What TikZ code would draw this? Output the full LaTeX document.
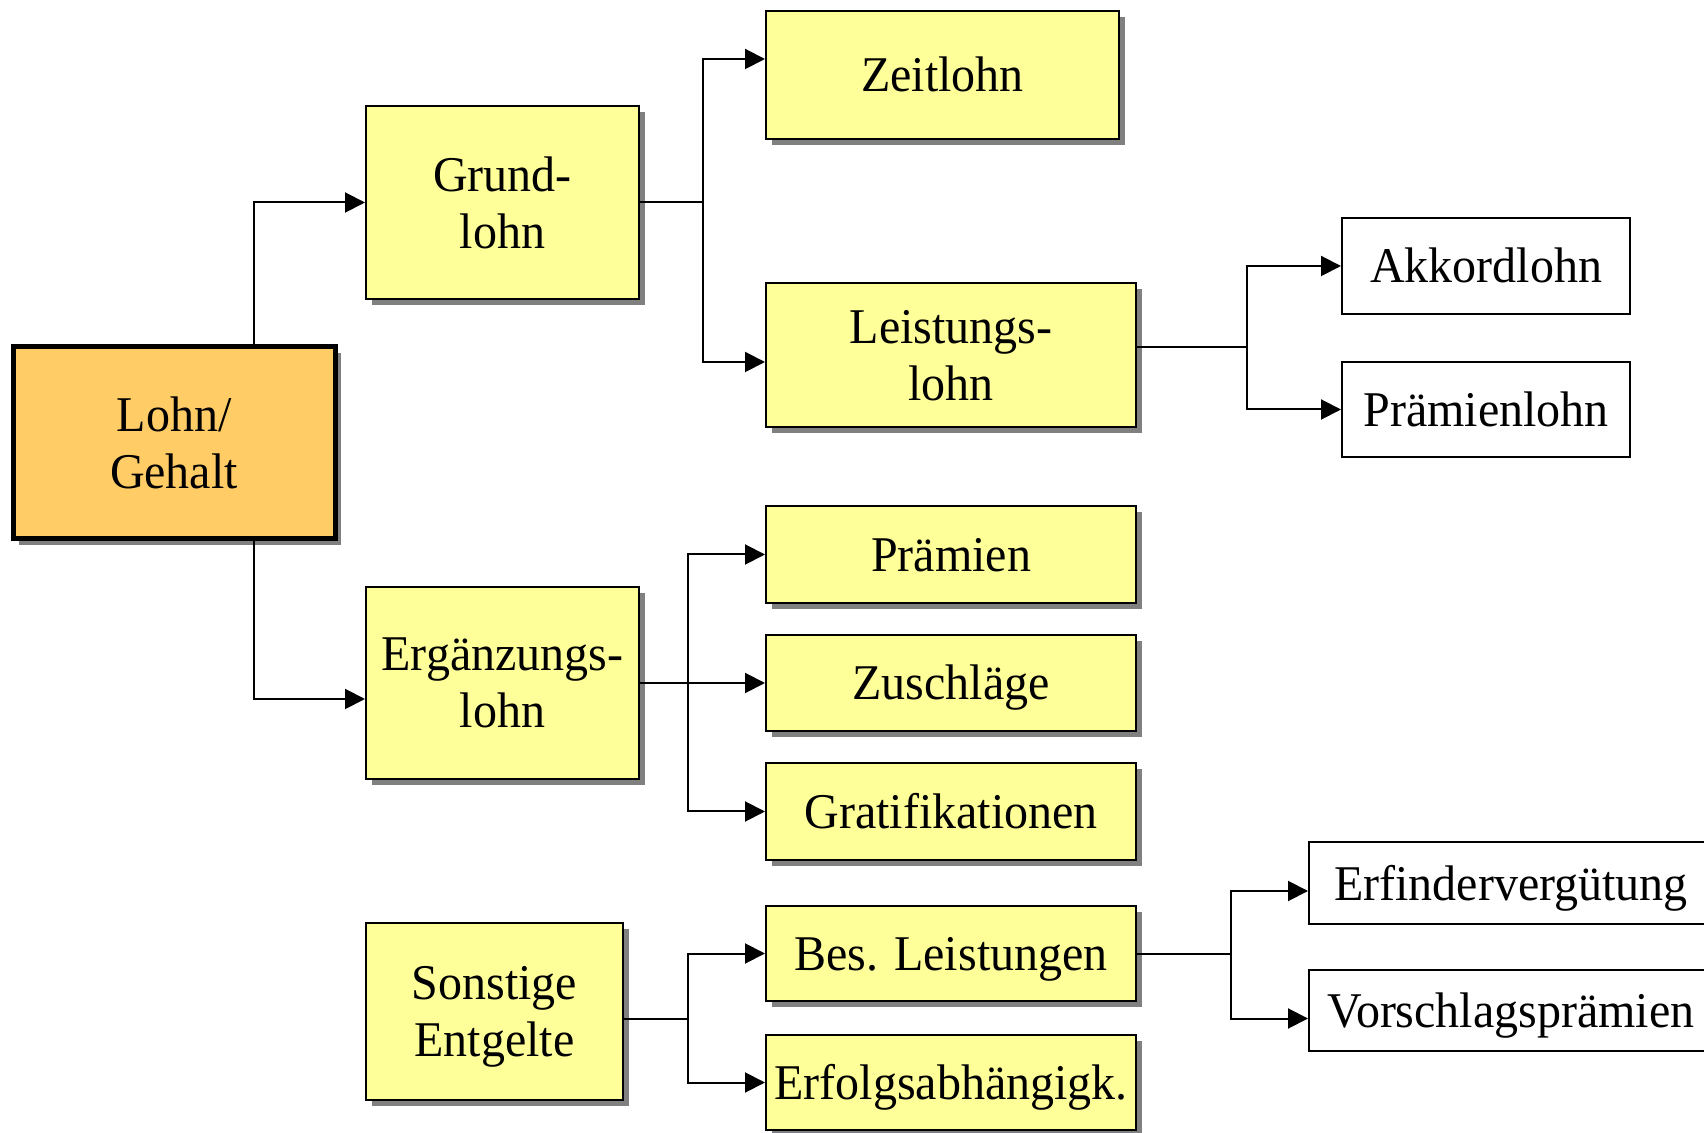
\documentclass[tikz,border=0pt]{standalone}
\usepackage{fontspec}
\setmainfont{Liberation Serif}[FakeStretch=0.96]
\usetikzlibrary{%
  arrows.meta,%
  shadows%
}
\definecolor{hellgelb}{RGB}{255,255,153}
\definecolor{lohnorange}{RGB}{255,204,102}

\begin{document}
\begin{tikzpicture}[x=0.5pt,y=-0.5pt,
  every node/.style={font=\fontsize{25}{28.5}\selectfont,align=center,inner sep=0pt},
  mass/.style 2 args={minimum width=#1*0.5pt,minimum height=#2*0.5pt},
  eine/.style={text height=18pt,text depth=1pt},
  zwei/.style={text depth=0pt},
  schatten/.style={drop shadow={shadow xshift=3pt,shadow yshift=-3pt,fill=gray,opacity=1}},
  gelb/.style={draw,line width=1pt,fill=hellgelb,schatten},
  weiss/.style={draw,line width=1pt,fill=white},
  haupt/.style={draw,line width=2.5pt,fill=lohnorange,schatten},
  pfeil/.style={line width=1pt,-{Triangle[length=10pt,width=10pt]}}]
  \useasboundingbox (0,0) rectangle (1704,1133);

  % Knoten
  \node[haupt,zwei,mass={322}{192}] (lohn) at (174,443) {Lohn/\\Gehalt};
  \node[gelb,zwei,mass={273}{193}] (grund) at (502.5,202.5) {Grund-\\lohn};
  \node[gelb,zwei,mass={273}{192}] (ergaenz) at (502.5,683) {Ergänzungs-\\lohn};
  \node[gelb,zwei,mass={257}{177}] (sonst) at (494.5,1011.5) {Sonstige\\Entgelte};

  \node[gelb,eine,mass={353}{128}] (zeit) at (942.5,75) {Zeitlohn};
  \node[gelb,zwei,mass={370}{144}] (leist) at (951,355) {Leistungs-\\lohn};
  \node[gelb,eine,mass={370}{97}] (praem) at (951,554.5) {Prämien};
  \node[gelb,eine,mass={370}{96}] (zuschl) at (951,683) {Zuschläge};
  \node[gelb,eine,mass={370}{97}] (grat) at (951,811.5) {Gratifikationen};
  \node[gelb,eine,mass={370}{95}] (bes) at (951,953.5) {Bes. Leistungen};
  \node[gelb,eine,mass={370}{95}] (erfolg) at (951,1082.5) {Erfolgsabhängigk.};

  \node[weiss,eine,mass={288}{96}] (akkord) at (1486,266) {Akkordlohn};
  \node[weiss,eine,mass={288}{95}] (praemlohn) at (1486,409.5) {Prämienlohn};
  \node[weiss,eine,mass={404}{81}] (erfind) at (1511,883) {Erfindervergütung};
  \node[weiss,eine,mass={404}{81}] (vorschl) at (1511,1010.5) {Vorschlagsprämien};

  % Verbindungen
  \draw[pfeil] ([xshift=40pt]lohn.north) |- (grund.west);
  \draw[pfeil] ([xshift=40pt]lohn.south) |- ([yshift=-8pt]ergaenz.west);

  \draw[pfeil] (grund.east) -- ++(63,0) |- ([yshift=8pt]zeit.west);
  \draw[pfeil] (grund.east) -- ++(63,0) |- ([yshift=-3.5pt]leist.west);

  \draw[pfeil] ([yshift=4pt]leist.east) -- ++(110,0) |- (akkord.west);
  \draw[pfeil] ([yshift=4pt]leist.east) -- ++(110,0) |- (praemlohn.west);

  \draw[pfeil] (ergaenz.east) -- ++(48,0) |- (praem.west);
  \draw[pfeil] (ergaenz.east) -- (zuschl.west);
  \draw[pfeil] (ergaenz.east) -- ++(48,0) |- (grat.west);

  \draw[pfeil] ([yshift=-3.75pt]sonst.east) -- ++(64,0) |- (bes.west);
  \draw[pfeil] ([yshift=-3.75pt]sonst.east) -- ++(64,0) |- (erfolg.west);

  \draw[pfeil] (bes.east) -- ++(94,0) |- ([yshift=-4pt]erfind.west);
  \draw[pfeil] (bes.east) -- ++(94,0) |- ([yshift=-4pt]vorschl.west);
\end{tikzpicture}
\end{document}
